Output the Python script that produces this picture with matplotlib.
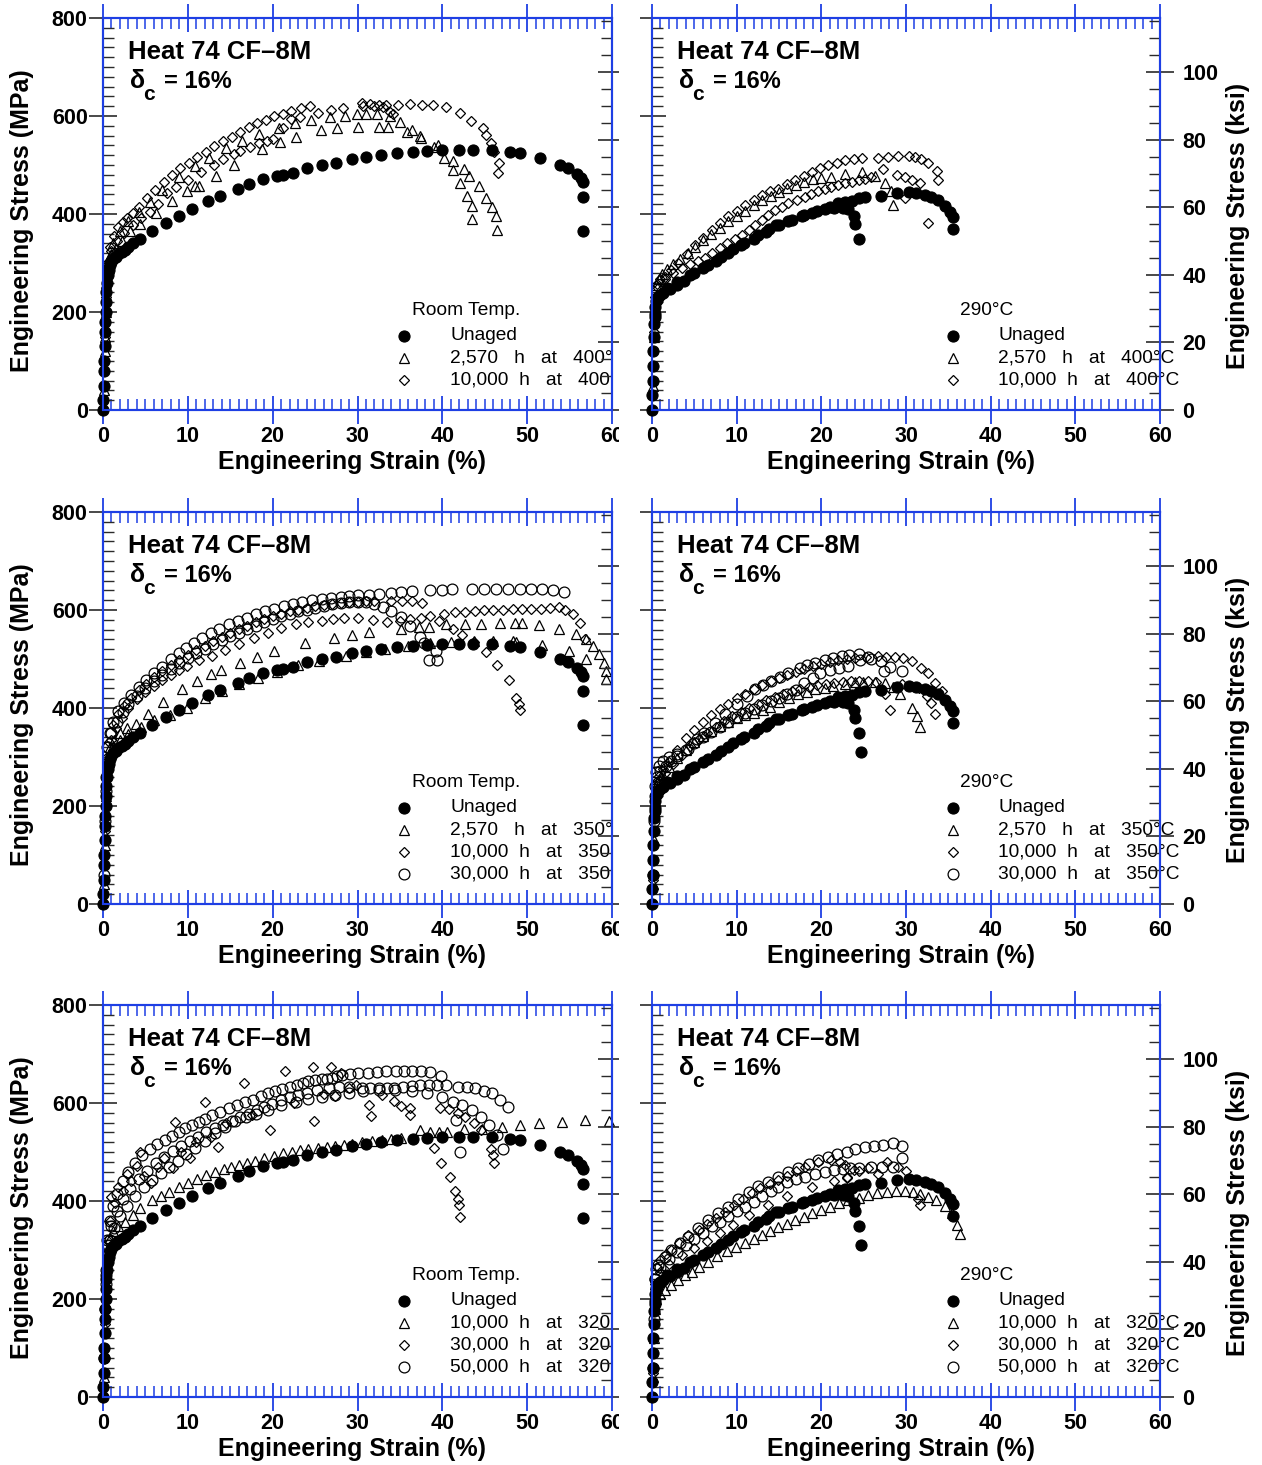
import numpy as np
import matplotlib
matplotlib.use("Agg")
import matplotlib.pyplot as plt
from matplotlib.ticker import MultipleLocator
from matplotlib.patches import Rectangle

plt.rcParams['font.family'] = ['Liberation Sans', 'DejaVu Sans']

W, H = 1262, 1465
BLUE = '#1e3fe4'
TICK = '#2a2a2a'
MPA_PER_KSI = 6.895

# ---------------- data: (strain %, stress MPa) ----------------
# room temperature, unaged (same specimen in all left panels)
rt_unaged = np.array([
    [0.0, 0], [0.05, 20], [0.1, 50], [0.1, 80], [0.15, 100], [0.2, 130], [0.2, 160], [0.25, 180],
    [0.3, 200], [0.35, 220], [0.4, 240], [0.5, 260], [0.6, 275], [0.7, 285], [0.8, 295], [1.0, 303],
    [1.2, 308], [1.5, 313], [1.8, 318], [2.2, 322], [2.6, 327], [3.0, 332], [3.5, 340], [4.4, 350],
    [5.8, 365], [7.4, 382], [8.9, 396], [10.5, 411], [12.4, 426], [13.8, 437], [15.9, 451], [17.2, 461],
    [18.9, 471], [20.5, 478], [21.2, 480], [22.4, 484], [24.0, 493], [25.8, 499], [27.5, 505], [29.3, 512],
    [31.0, 516], [32.8, 520], [34.7, 524], [36.5, 526], [38.2, 528], [40.0, 531], [42.0, 531], [43.6, 531],
    [45.8, 531], [48.0, 527], [49.1, 524], [51.5, 515], [53.9, 500], [54.8, 493], [55.9, 481], [56.3, 473],
    [56.6, 465], [56.6, 434], [56.6, 366]])

# 290 C, unaged (same specimens in all right panels)
t290_unaged = np.array([
    [0.0, 0], [0.05, 30], [0.1, 60], [0.1, 90], [0.15, 120], [0.2, 150], [0.25, 175], [0.3, 195],
    [0.4, 210], [0.5, 222], [0.7, 230], [1.0, 235], [1.34, 238], [2.13, 246], [2.91, 255], [3.82, 264],
    [5.0, 279], [6.65, 296], [8.15, 313], [9.6, 328], [10.9, 341], [12.55, 357], [13.8, 369], [14.7, 378],
    [16.1, 386], [17.7, 396], [18.9, 403], [20.4, 410], [21.5, 413], [22.5, 412], [23.2, 410], [23.8, 396],
    [24.0, 380], [24.5, 349],
    [0.3, 190], [0.6, 225], [1.8, 250], [3.0, 262], [4.5, 275], [6.0, 290], [7.5, 305], [9.0, 320],
    [10.5, 337], [12.0, 350], [13.5, 363], [15.0, 377], [16.5, 388], [18.0, 398], [19.5, 406], [21.0, 415],
    [22.0, 422], [22.8, 425], [23.6, 427], [24.4, 432], [25.1, 434], [27.0, 437], [28.9, 442], [30.3, 444],
    [31.2, 442], [32.2, 439], [33.0, 435], [33.8, 429], [34.6, 416], [35.2, 405], [35.5, 393], [35.5, 369]])
t290_unaged_drop = np.array([[24.7, 311]])

# row 1: aged at 400 C
rt_400_2570 = np.array([
    [0.1, 40], [0.2, 120], [0.3, 200], [0.4, 260], [0.6, 300], [1.0, 318], [1.5, 330], [2.2, 345],
    [3.2, 365], [4.4, 380], [6.2, 403], [8.1, 427], [9.9, 447], [10.9, 457], [11.3, 457], [13.3, 478],
    [15.4, 500], [18.8, 532], [20.9, 546], [22.7, 558], [25.7, 571], [27.6, 575], [30.1, 578], [32.5, 578],
    [33.6, 578], [35.8, 568], [37.5, 556], [39.0, 537], [40.2, 514], [41.3, 490], [42.1, 464], [42.9, 437],
    [43.5, 416], [43.5, 389],
    [0.2, 150], [0.4, 250], [0.7, 310], [1.2, 340], [2.0, 365], [3.0, 385], [4.2, 405], [5.5, 425],
    [7.0, 450], [8.9, 476], [10.9, 498], [12.5, 515], [14.5, 535], [16.4, 550], [18.4, 563], [20.7, 575],
    [22.6, 585], [24.5, 592], [26.7, 597], [28.5, 600], [29.9, 605], [31.0, 605], [32.3, 605], [33.8, 599],
    [35.0, 588], [36.4, 571], [37.4, 559], [39.5, 540], [41.3, 508], [42.5, 492], [43.2, 478], [44.3, 457],
    [45.1, 432], [45.9, 415], [46.3, 395], [46.5, 367]])
rt_400_10000 = np.array([
    [0.1, 50], [0.2, 150], [0.3, 230], [0.5, 300], [0.84, 333], [1.3, 355], [1.82, 374], [2.3, 383],
    [2.81, 391], [3.5, 403], [4.19, 415], [5.2, 433], [6.17, 450], [7.2, 466], [8.15, 480], [9.1, 493],
    [10.1, 505], [11.1, 516], [12.1, 527], [13.1, 538], [14.1, 548], [15.2, 558], [16.2, 568], [17.2, 577],
    [18.2, 585], [19.2, 592], [20.2, 599], [21.2, 605], [22.2, 611], [23.3, 616], [24.4, 620], [26.9, 612],
    [28.3, 616], [30.5, 627], [31.5, 625], [32.5, 623], [33.4, 622], [34.8, 622], [36.2, 624], [37.6, 623],
    [38.9, 622], [40.4, 618], [42.1, 607], [43.4, 590], [44.8, 575], [45.2, 561], [45.7, 544], [46.1, 527],
    [46.7, 505], [46.6, 484],
    [0.3, 200], [0.6, 290], [1.0, 325], [1.6, 345], [2.5, 362], [3.5, 378], [4.5, 392], [5.5, 405],
    [6.5, 420], [7.55, 442], [8.6, 455], [10.0, 470], [11.5, 485], [13.1, 500], [14.1, 512], [15.5, 522],
    [16.2, 529], [17.3, 536], [18.4, 544], [19.3, 550], [20.0, 554], [21.2, 575], [22.2, 593], [23.2, 597],
    [25.3, 607], [30.7, 620], [31.9, 620], [33.0, 619], [33.8, 609], [34.2, 605]])
t290_400_2570 = np.array([
    [0.1, 50], [0.2, 150], [0.3, 220], [0.5, 255], [0.8, 268], [1.2, 278], [1.8, 288], [2.5, 298],
    [3.3, 308], [4.2, 320], [5.1, 333], [6.0, 346], [7.0, 360], [8.0, 372], [9.0, 385], [10.0, 396],
    [11.0, 407], [12.0, 418], [13.0, 428], [14.0, 437], [15.0, 445], [16.0, 453], [17.0, 460], [18.0, 466],
    [19.0, 471], [20.0, 474], [21.2, 476], [22.8, 481], [24.8, 486], [26.3, 478], [27.5, 463], [28.2, 446],
    [28.5, 418]])
t290_400_10000 = np.array([
    [0.1, 60], [0.2, 160], [0.3, 230], [0.6, 258], [1.0, 268], [1.53, 272], [2.3, 285], [3.1, 299],
    [4.1, 318], [5.1, 337], [6.0, 352], [7.05, 367], [8.0, 381], [9.0, 395], [10.0, 407], [11.0, 418],
    [12.0, 429], [12.95, 439], [13.9, 446], [14.9, 452], [15.9, 461], [16.9, 469], [17.9, 478], [18.9, 486],
    [19.9, 493], [20.8, 500], [21.8, 505], [22.8, 510], [23.8, 512], [24.8, 514], [26.7, 514], [27.9, 517],
    [29.1, 518], [30.3, 518], [31.1, 516], [31.8, 512], [32.6, 505], [33.7, 488], [33.8, 469],
    [0.3, 210], [0.7, 250], [1.5, 268], [2.5, 280], [3.5, 290], [4.5, 298], [5.4, 305], [6.26, 310],
    [7.1, 320], [8.0, 330], [8.9, 340], [9.8, 350], [10.6, 358], [11.4, 367], [12.2, 378], [12.95, 388],
    [13.7, 398], [14.5, 408], [15.3, 415], [16.1, 422], [17.1, 428], [18.1, 435], [18.8, 441], [19.6, 446],
    [20.4, 451], [21.2, 456], [22.0, 460], [22.8, 463], [23.6, 466], [24.4, 469], [25.2, 472], [25.9, 476],
    [27.3, 491], [28.9, 480], [29.9, 476], [30.7, 469], [31.6, 463], [29.9, 432], [32.6, 381]])

# row 2: aged at 350 C
rt_350_2570 = np.array([
    [0.1, 40], [0.2, 140], [0.3, 220], [0.5, 290], [0.8, 320], [1.3, 335], [2.0, 350], [2.8, 360],
    [3.86, 367], [5.35, 388], [7.12, 413], [9.29, 438], [11.1, 456], [12.75, 470], [13.9, 477], [16.1, 492],
    [18.1, 505], [20.1, 516], [23.8, 532], [27.2, 543], [29.4, 550], [31.3, 555], [35.1, 562], [37.2, 565],
    [38.4, 566], [40.4, 571], [42.7, 572], [44.5, 572], [46.8, 573], [48.6, 573], [49.4, 573], [51.4, 569],
    [53.7, 562], [55.7, 552], [56.9, 540], [57.8, 527], [58.5, 510], [59.1, 492], [59.3, 476], [59.3, 459],
    [0.2, 120], [0.4, 230], [0.7, 300], [1.2, 322], [2.0, 335], [3.0, 346], [4.5, 362], [6.0, 375],
    [7.9, 386], [9.9, 401], [12.0, 420], [14.0, 435], [16.0, 450], [18.3, 462], [20.5, 474], [23.0, 487],
    [25.5, 496], [28.6, 506], [31.0, 514], [33.3, 521], [36.0, 527], [38.5, 532], [41.0, 535], [43.7, 537],
    [46.0, 537], [48.3, 537], [48.7, 535], [51.7, 529], [54.9, 516], [56.9, 501]])
rt_350_10000 = np.array([
    [0.1, 50], [0.2, 150], [0.3, 240], [0.5, 300], [0.9, 335], [1.5, 360], [2.2, 380], [3.0, 401],
    [4.0, 418], [5.0, 432], [6.0, 445], [7.0, 457], [8.0, 468], [9.0, 478], [9.9, 486], [11.3, 497],
    [12.8, 506], [14.4, 519], [16.0, 531], [17.8, 543], [19.5, 554], [21.0, 563], [22.7, 571], [24.2, 575],
    [25.8, 578], [27.1, 581], [28.4, 584], [30.0, 583], [31.8, 580], [33.5, 576], [35.0, 578], [36.2, 581],
    [37.5, 584], [38.6, 588], [40.2, 591], [41.5, 595], [42.7, 596], [43.8, 598], [44.9, 599], [46.0, 601],
    [47.1, 601], [48.3, 603], [49.4, 603], [50.4, 603], [51.6, 603], [52.7, 605], [53.8, 606], [54.5, 601],
    [55.4, 592], [56.2, 574], [56.8, 541],
    [0.2, 130], [0.4, 260], [0.7, 330], [1.2, 365], [1.8, 388], [2.5, 405], [3.3, 421], [4.2, 436],
    [5.1, 450], [6.0, 463], [7.0, 476], [8.0, 487], [9.0, 498], [10.0, 508], [11.0, 518], [12.0, 527],
    [13.0, 536], [14.0, 545], [15.0, 553], [16.0, 561], [17.0, 568], [18.0, 575], [19.0, 581], [20.0, 587],
    [21.0, 592], [22.0, 597], [23.0, 601], [24.0, 605], [25.0, 608], [26.0, 611], [27.0, 613], [28.0, 615],
    [29.0, 616], [30.0, 617], [31.0, 618], [32.0, 618], [33.9, 618], [35.2, 618], [36.4, 618], [37.6, 615],
    [39.6, 578], [41.2, 561], [42.3, 549], [43.7, 535], [45.1, 515], [46.5, 488], [47.8, 457], [48.7, 420],
    [49.0, 408], [49.1, 396]])
rt_350_30000 = np.array([
    [0.1, 60], [0.2, 170], [0.3, 260], [0.5, 320], [0.8, 350], [1.2, 372], [1.8, 393], [2.5, 410],
    [3.3, 427], [4.2, 443], [5.1, 458], [6.0, 472], [6.93, 484], [8.0, 499], [8.9, 512], [9.8, 523],
    [10.7, 533], [11.65, 542], [12.7, 553], [13.7, 562], [14.8, 571], [15.9, 578], [17.0, 584], [18.0, 591],
    [19.1, 597], [20.2, 603], [21.3, 608], [22.4, 613], [23.5, 617], [24.6, 620], [25.8, 622], [26.9, 625],
    [28.0, 627], [29.0, 629], [30.1, 630], [31.3, 631], [32.5, 632], [33.9, 634], [35.1, 637], [36.4, 639],
    [38.6, 640], [40.0, 641], [41.1, 642], [43.5, 643], [44.9, 643], [46.3, 643], [47.7, 643], [49.1, 643],
    [50.4, 643], [51.8, 642], [53.1, 640], [54.3, 637],
    [0.3, 230], [0.6, 320], [1.0, 350], [1.6, 372], [2.3, 392], [3.0, 408], [4.0, 425], [5.0, 440],
    [6.0, 455], [7.0, 468], [8.0, 480], [9.0, 491], [10.0, 502], [11.0, 512], [12.0, 521], [13.0, 530],
    [14.0, 538], [15.0, 546], [16.0, 554], [17.0, 561], [18.0, 568], [19.0, 575], [20.0, 581], [21.0, 587],
    [22.0, 592], [23.0, 597], [24.0, 601], [25.0, 605], [26.0, 609], [27.0, 612], [28.0, 614], [29.0, 616],
    [30.0, 617], [31.0, 616], [32.0, 613], [33.0, 606], [34.0, 598], [35.1, 585], [36.2, 567], [37.4, 544],
    [37.8, 533], [38.4, 497], [39.2, 516], [39.4, 497]])
t290_350_2570 = np.array([
    [0.1, 40], [0.2, 130], [0.3, 200], [0.5, 240], [0.8, 255], [1.2, 265], [2.0, 280], [3.0, 298],
    [4.0, 315], [5.0, 330], [6.0, 342], [7.0, 354], [8.0, 364], [9.0, 372], [10.0, 380], [11.0, 386],
    [12.0, 390], [13.1, 395], [13.9, 402], [15.0, 412], [16.2, 421], [17.3, 429], [18.3, 433], [19.2, 438],
    [20.4, 441], [21.4, 445], [22.8, 450], [24.0, 453], [24.9, 453], [26.3, 453], [27.5, 452], [28.5, 442],
    [29.3, 428], [30.7, 399], [31.3, 384], [31.6, 361]])
t290_350_10000 = np.array([
    [0.1, 50], [0.2, 150], [0.3, 220], [0.5, 250], [0.8, 262], [1.3, 275], [2.0, 290], [3.0, 315],
    [4.0, 338], [5.0, 355], [6.0, 372], [7.0, 385], [8.0, 398], [9.0, 409], [10.0, 420], [11.0, 429],
    [12.0, 438], [13.0, 446], [14.0, 455], [15.0, 462], [16.0, 468], [17.0, 474], [18.0, 480], [19.0, 485],
    [20.0, 490], [21.0, 494], [22.0, 497], [23.0, 500], [24.0, 503], [25.3, 505], [26.7, 506], [27.6, 505],
    [28.7, 504], [29.7, 503], [30.7, 496], [31.8, 482], [32.6, 472], [33.4, 452], [34.2, 435],
    [0.3, 210], [0.7, 250], [1.5, 268], [2.5, 285], [3.5, 305], [4.5, 322], [5.5, 337], [6.5, 350],
    [7.5, 362], [8.5, 373], [9.5, 383], [10.5, 392], [11.5, 401], [12.5, 409], [13.5, 416], [14.5, 423],
    [15.5, 429], [16.5, 434], [17.5, 439], [18.5, 443], [19.5, 447], [20.5, 450], [21.5, 452], [22.5, 454],
    [23.5, 455], [24.5, 455], [25.5, 455], [26.5, 453], [27.5, 428], [28.1, 395], [29.5, 448], [30.5, 445],
    [31.5, 440], [32.5, 425], [33.0, 411], [33.4, 388]])
t290_350_30000 = np.array([
    [0.1, 60], [0.2, 170], [0.3, 240], [0.5, 270], [0.8, 282], [1.3, 292], [2.0, 300], [3.0, 306],
    [4.3, 316], [5.3, 336], [6.1, 350], [7.4, 370], [8.6, 387], [10.0, 409], [11.2, 424], [12.2, 438],
    [13.1, 447], [14.1, 455], [15.1, 463], [16.1, 472], [17.5, 482], [18.3, 487], [19.2, 492], [20.4, 497],
    [21.4, 503], [22.4, 506], [23.3, 508], [24.5, 510], [25.5, 504], [27.4, 476], [29.5, 476],
    [0.3, 220], [0.6, 260], [1.0, 272], [1.6, 282], [2.3, 292], [3.0, 302], [4.0, 315], [5.0, 328],
    [6.0, 340], [7.0, 352], [8.0, 362], [9.0, 372], [10.0, 381], [11.0, 390], [12.0, 398], [13.0, 406],
    [14.0, 414], [15.0, 421], [16.0, 428], [17.0, 436], [18.0, 452], [19.0, 462], [19.8, 472], [21.0, 478],
    [22.1, 482], [23.2, 486], [24.6, 497], [25.9, 499], [27.0, 495], [28.1, 484]])

# row 3: aged at 320 C
rt_320_10000 = np.array([
    [0.1, 40], [0.2, 140], [0.3, 230], [0.5, 300], [0.8, 325], [1.2, 338], [1.8, 348], [2.6, 358],
    [3.5, 372], [4.37, 385], [5.75, 402], [6.8, 411], [7.8, 419], [8.9, 428], [10.0, 437], [11.1, 445],
    [12.2, 453], [13.2, 459], [14.3, 465], [15.1, 469], [16.0, 473], [17.0, 478], [17.9, 482], [19.0, 487],
    [20.1, 492], [21.2, 497], [22.3, 501], [23.2, 504], [24.2, 507], [25.3, 509], [26.4, 511], [27.4, 513],
    [28.4, 514], [29.4, 517], [30.5, 521], [31.7, 522], [32.9, 524], [34.0, 526], [35.1, 528], [37.4, 545],
    [38.5, 540], [39.6, 541], [40.6, 541], [42.5, 546], [44.7, 546], [47.0, 552], [49.2, 555], [51.4, 560],
    [54.1, 562], [56.8, 565], [59.7, 564]])
rt_320_30000 = np.array([
    [0.1, 50], [0.2, 150], [0.3, 250], [0.5, 320], [0.8, 360], [1.0, 409], [1.4, 395], [1.8, 429],
    [2.3, 420], [2.8, 456], [3.3, 440], [4.0, 471], [4.37, 499], [4.8, 452], [5.67, 437], [6.5, 470],
    [7.2, 488], [8.2, 468], [8.5, 562], [9.2, 500], [10.3, 487], [11.0, 520], [12.0, 603], [12.7, 530],
    [13.6, 511], [14.5, 560], [16.6, 640], [17.6, 575], [19.7, 544], [21.4, 665], [22.5, 600], [24.8, 674],
    [24.9, 564], [26.0, 618], [26.9, 674], [27.4, 614], [28.1, 662], [29.0, 630], [29.8, 637], [31.3, 596],
    [31.6, 573], [32.9, 616], [34.3, 604], [35.1, 594], [36.2, 589], [36.2, 576], [39.0, 509], [39.7, 589],
    [39.9, 477], [40.8, 587], [40.9, 448], [41.5, 421], [41.8, 405], [41.9, 579], [42.0, 392], [42.1, 368],
    [42.7, 571], [43.7, 560], [44.5, 545], [45.7, 507], [46.0, 494], [46.1, 477]])
rt_320_50000 = np.array([
    [0.1, 80], [0.2, 180], [0.3, 260], [0.5, 320], [0.8, 360], [1.2, 390], [1.7, 415], [2.3, 440],
    [3.0, 460], [3.8, 478], [4.6, 493], [5.5, 506], [6.4, 516], [7.3, 524], [8.1, 533], [8.9, 541],
    [9.7, 548], [10.5, 555], [11.3, 561], [12.0, 567], [12.9, 575], [13.8, 582], [14.8, 589], [15.8, 596],
    [16.7, 602], [17.7, 607], [18.6, 614], [19.5, 620], [20.3, 624], [21.1, 628], [22.0, 633], [22.9, 637],
    [23.6, 641], [24.2, 644], [25.0, 646], [25.8, 648], [26.4, 650], [27.0, 652], [27.6, 655], [28.2, 657],
    [29.1, 659], [30.1, 661], [31.2, 662], [32.3, 664], [33.4, 665], [34.5, 666], [35.5, 666], [36.4, 666],
    [37.5, 665], [38.6, 663], [39.8, 655],
    [0.3, 230], [0.6, 310], [1.0, 350], [1.6, 380], [2.3, 405], [3.2, 425], [4.2, 445], [5.2, 462],
    [6.2, 477], [7.2, 490], [8.2, 502], [9.2, 512], [10.2, 522], [11.2, 531], [12.2, 540], [13.2, 548],
    [14.2, 556], [15.2, 564], [16.2, 571], [17.2, 578], [18.2, 585], [19.0, 592], [19.9, 598], [21.0, 606],
    [22.0, 612], [23.0, 617], [24.0, 621], [25.2, 626], [26.6, 630], [27.8, 632], [29.0, 632], [30.5, 630],
    [31.5, 630], [32.5, 630], [33.5, 630], [34.3, 630], [35.4, 632], [36.4, 634], [37.4, 636], [38.4, 637],
    [39.4, 637], [40.4, 637], [41.9, 633], [42.9, 632], [43.9, 630], [44.9, 625], [45.9, 620], [46.8, 606],
    [47.7, 592],
    [0.4, 250], [0.8, 320], [1.3, 345], [2.0, 370], [2.8, 390], [3.8, 410], [4.8, 428], [5.8, 443],
    [6.8, 458], [7.8, 470], [8.8, 481], [9.8, 495], [10.8, 508], [12.0, 522], [13.2, 538], [14.4, 551],
    [15.6, 563], [16.8, 572], [18.0, 578], [19.5, 586], [21.0, 595], [22.7, 603], [24.2, 608], [25.8, 613],
    [27.4, 617], [29.0, 620], [30.7, 624], [32.5, 627], [34.4, 627], [36.4, 625], [38.2, 620], [40.0, 613],
    [41.2, 603], [42.3, 596], [43.5, 586], [44.6, 572], [45.5, 555], [46.5, 535], [47.1, 507], [41.6, 565],
    [42.1, 499]])
t290_320_10000 = np.array([
    [0.1, 40], [0.2, 120], [0.3, 180], [0.5, 200], [0.9, 210], [1.5, 218], [2.2, 228], [3.1, 239],
    [3.9, 248], [4.7, 256], [5.6, 266], [6.65, 276], [7.7, 287], [8.8, 297], [9.9, 306], [11.0, 314],
    [12.0, 323], [12.95, 331], [13.9, 339], [14.9, 346], [15.9, 354], [16.9, 361], [17.9, 368], [18.9, 375],
    [20.0, 382], [21.0, 388], [22.1, 395], [23.2, 402], [24.4, 407], [25.5, 412], [26.6, 416], [27.7, 419],
    [28.8, 420], [29.9, 420], [30.8, 418], [31.6, 414], [32.6, 408], [33.6, 402], [34.6, 390], [35.4, 375],
    [36.0, 351], [36.4, 333]])
t290_320_30000 = np.array([
    [0.1, 50], [0.2, 150], [0.3, 230], [0.6, 265], [1.0, 280], [1.6, 292], [2.3, 300], [3.2, 315],
    [4.3, 330], [5.5, 341], [6.5, 354], [7.5, 366], [8.6, 378], [9.7, 392], [10.7, 404], [11.8, 416],
    [12.8, 426], [13.9, 435], [14.9, 443], [15.9, 452], [17.0, 461], [18.1, 470], [19.6, 480], [21.2, 484],
    [22.2, 480], [22.8, 473], [23.8, 463], [23.0, 446],
    [0.4, 220], [1.0, 255], [2.0, 272], [3.5, 290], [5.0, 305], [6.5, 318], [8.0, 335], [9.6, 351],
    [11.5, 372], [13.7, 392], [16.0, 410], [18.9, 429], [21.5, 440], [23.0, 450], [24.4, 462], [25.5, 468],
    [26.7, 456], [27.7, 480], [29.0, 470], [30.0, 462], [31.4, 405], [31.6, 392]])
t290_320_50000 = np.array([
    [0.1, 60], [0.2, 160], [0.3, 240], [0.5, 262], [0.75, 269], [1.5, 285], [2.3, 300], [3.3, 314],
    [4.3, 327], [5.4, 345], [6.65, 361], [7.8, 375], [9.0, 388], [10.2, 404], [11.4, 419], [12.5, 430],
    [13.7, 439], [14.9, 450], [16.1, 460], [17.3, 468], [18.5, 476], [19.6, 483], [20.8, 490], [21.9, 496],
    [23.0, 501], [24.0, 506], [25.1, 510], [26.2, 512], [27.3, 514], [28.5, 518], [29.5, 513],
    [0.4, 240], [1.0, 265], [2.0, 282], [3.0, 296], [4.0, 310], [5.0, 322], [6.0, 335], [7.05, 348],
    [8.0, 358], [9.0, 370], [10.0, 380], [11.0, 388], [12.0, 398], [13.0, 410], [14.0, 420], [14.9, 429],
    [16.0, 438], [17.0, 444], [18.1, 450], [19.2, 455], [20.4, 460], [21.5, 463], [22.5, 466], [23.4, 467],
    [24.4, 467], [25.9, 470], [27.2, 470], [28.5, 470], [29.5, 487]])

x_ticks = [0, 10, 20, 30, 40, 50, 60]
mpa_ticks = [0, 200, 400, 600, 800]
ksi_ticks = [0, 20, 40, 60, 80, 100]

# ---------------- styles ----------------
STY = {
    'unaged': dict(marker='o', ms=8, mfc='black', mec='black', mew=0.8),
    'tri': dict(marker='^', ms=7, mfc='none', mec='black', mew=0.9),
    'dia': dict(marker='D', ms=5.2, mfc='none', mec='black', mew=0.9),
    'circ': dict(marker='o', ms=7.8, mfc='none', mec='black', mew=0.9),
}

panels = [
    dict(col=0, row=0, head='Room Temp.',
         series=[('unaged', rt_unaged), ('tri', rt_400_2570), ('dia', rt_400_10000)],
         labels=['Unaged', '2,570   h   at   400°C', '10,000  h   at   400°C']),
    dict(col=1, row=0, head='290°C',
         series=[('unaged', t290_unaged), ('tri', t290_400_2570), ('dia', t290_400_10000)],
         labels=['Unaged', '2,570   h   at   400°C', '10,000  h   at   400°C']),
    dict(col=0, row=1, head='Room Temp.',
         series=[('unaged', rt_unaged), ('tri', rt_350_2570), ('dia', rt_350_10000), ('circ', rt_350_30000)],
         labels=['Unaged', '2,570   h   at   350°C', '10,000  h   at   350°C', '30,000  h   at   350°C']),
    dict(col=1, row=1, head='290°C',
         series=[('unaged', t290_unaged), ('unaged', t290_unaged_drop), ('tri', t290_350_2570),
                 ('dia', t290_350_10000), ('circ', t290_350_30000)],
         labels=['Unaged', '2,570   h   at   350°C', '10,000  h   at   350°C', '30,000  h   at   350°C']),
    dict(col=0, row=2, head='Room Temp.',
         series=[('unaged', rt_unaged), ('tri', rt_320_10000), ('dia', rt_320_30000), ('circ', rt_320_50000)],
         labels=['Unaged', '10,000  h   at   320°C', '30,000  h   at   320°C', '50,000  h   at   320°C']),
    dict(col=1, row=2, head='290°C',
         series=[('unaged', t290_unaged), ('unaged', t290_unaged_drop), ('tri', t290_320_10000),
                 ('dia', t290_320_30000), ('circ', t290_320_50000)],
         labels=['Unaged', '10,000  h   at   320°C', '30,000  h   at   320°C', '50,000  h   at   320°C']),
]

LEFTS = [103, 652]
WIDTHS = [509, 508]
TOPS = [18, 512, 1005]
AX_H = 392

fig = plt.figure(figsize=(W / 100, H / 100), dpi=100)


def style_ax(ax, ax2, col):
    for a in (ax, ax2):
        for s in a.spines.values():
            s.set_color(BLUE)
            s.set_linewidth(1.5)
    ax.set_xlim(0, 60)
    ax.set_ylim(0, 800)
    ax2.set_ylim(0, 800 / MPA_PER_KSI)
    ax.set_xticks(x_ticks)
    ax.xaxis.set_minor_locator(MultipleLocator(1))
    ax.set_yticks(mpa_ticks)
    ax.yaxis.set_minor_locator(MultipleLocator(20))
    ax2.set_yticks(ksi_ticks)
    ax2.yaxis.set_minor_locator(MultipleLocator(5))
    ax.tick_params(axis='x', which='major', direction='inout', length=20, width=1.3,
                   color=BLUE, top=True, bottom=True, labelsize=15.5, pad=1.5)
    ax.tick_params(axis='x', which='minor', direction='in', length=8, width=1.1,
                   color=BLUE, top=True, bottom=True)
    ax.tick_params(axis='y', which='major', direction='inout', length=20, width=1.2,
                   color=TICK, right=False, labelleft=(col == 0), labelsize=15.5, pad=1)
    ax.tick_params(axis='y', which='minor', direction='in', length=8, width=1.0, color=TICK)
    ax2.tick_params(axis='y', which='major', direction='inout', length=20, width=1.2,
                    color=TICK, labelright=(col == 1), labelsize=15.5, pad=6)
    ax2.tick_params(axis='y', which='minor', direction='in', length=8, width=1.0, color=TICK)
    for lab in ax.get_xticklabels() + ax.get_yticklabels() + ax2.get_yticklabels():
        lab.set_fontweight('bold')


for p in panels:
    col, row = p['col'], p['row']
    left, width, top = LEFTS[col], WIDTHS[col], TOPS[row]
    ax = fig.add_axes([left / W, 1 - (top + AX_H) / H, width / W, AX_H / H])
    ax.set_zorder(2)
    ax2 = ax.twinx()
    ax.patch.set_visible(False)
    style_ax(ax, ax2, col)

    for key, data in p['series']:
        ax.plot(data[:, 0], data[:, 1], linestyle='none', clip_on=False, zorder=3, **STY[key])

    # panel title with delta_c written as three pieces so the subscript sits low
    ax.text(0.05, 0.913, 'Heat 74 CF\u20138M', transform=ax.transAxes, fontsize=18.5,
            fontweight='bold', va='center', ha='left')
    ax.text(0.053, 0.839, '\u03b4', transform=ax.transAxes, fontsize=18,
            fontweight='bold', va='center', ha='left')
    ax.text(0.079, 0.806, 'c', transform=ax.transAxes, fontsize=15,
            fontweight='bold', va='center', ha='left')
    ax.text(0.12, 0.839, '= 16%', transform=ax.transAxes, fontsize=17,
            fontweight='bold', va='center', ha='left')

    # in-plot key
    n = len(p['labels'])
    clip = col == 0
    if n == 3:
        y_head, y_rows = 0.255, [0.19, 0.133, 0.076]
    else:
        y_head, y_rows = 0.309, [0.245, 0.189, 0.132, 0.076]
    ax.text(0.607, y_head, p['head'], transform=ax.transAxes, fontsize=13.8,
            va='center', ha='left', clip_on=clip)
    keys = ['unaged', 'tri', 'dia', 'circ'][:n]
    for key, lab, yy in zip(keys, p['labels'], y_rows):
        ax.plot([0.592], [yy], transform=ax.transAxes, linestyle='none', clip_on=False, **STY[key])
        ax.text(0.682, yy, lab, transform=ax.transAxes, fontsize=13.8,
                va='center', ha='left', clip_on=clip)

    # axis titles
    fig.text((left + width / 2 - 5) / W, 1 - (top + 444) / H, 'Engineering Strain (%)',
             fontsize=18, fontweight='bold', ha='center', va='center')
    if col == 0:
        fig.text(22 / W, 1 - (top + 203) / H, 'Engineering Stress (MPa)', rotation=90,
                 fontsize=18, fontweight='bold', ha='center', va='center')
    else:
        fig.text(1238 / W, 1 - (top + 208) / H, 'Engineering Stress (ksi)', rotation=90,
                 fontsize=18, fontweight='bold', ha='center', va='center')

# the left column is cut off just past its right frame
fig.patches.append(Rectangle((619 / W, 0), 21 / W, 1, transform=fig.transFigure,
                             facecolor='white', edgecolor='none', zorder=5))

fig.savefig('out.png', dpi=100)
